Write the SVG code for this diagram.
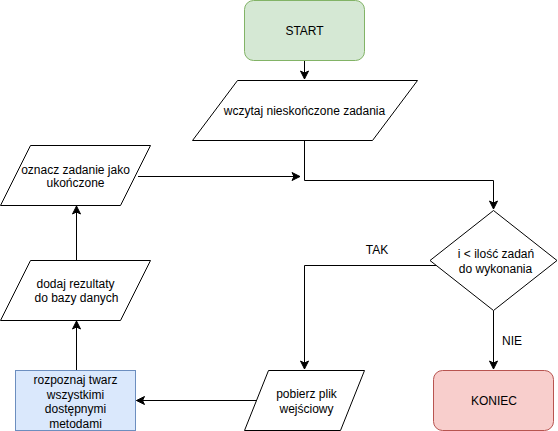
<svg xmlns="http://www.w3.org/2000/svg" width="558" height="431" viewBox="0 0 558 431">
<defs>
<style>
.t{font-family:"Liberation Sans",Arial,Helvetica,sans-serif;font-size:12px;fill:#000;text-anchor:middle}
.s{fill:#fff;stroke:#000;stroke-width:1}
.c{fill:none;stroke:#000;stroke-width:1}
</style>
<marker id="a" markerWidth="10" markerHeight="10" refX="9" refY="5" orient="auto" markerUnits="userSpaceOnUse">
<path d="M1,1 L9,5 L1,9 L3,5 Z" fill="#000" stroke="#000" stroke-width="1"/>
</marker>
</defs>
<rect width="558" height="431" fill="#fff"/>
<g id="connectors">
<path class="c" d="M304.5,60.5 V79" marker-end="url(#a)"/>
<path class="c" d="M304.5,140.5 V180.5 H493.5 V209" marker-end="url(#a)"/>
<path class="c" d="M138,176.5 H300" marker-end="url(#a)"/>
<path class="c" d="M76.5,260 V206" marker-end="url(#a)"/>
<path class="c" d="M76.5,370.5 V321" marker-end="url(#a)"/>
<path class="c" d="M257,400.5 H136.5" marker-end="url(#a)"/>
<path class="c" d="M436,265.5 H304.5 V369" marker-end="url(#a)"/>
<path class="c" d="M493.5,310.5 V369" marker-end="url(#a)"/>
<text class="t" x="377" y="254">TAK</text>
<text class="t" x="512" y="344.5">NIE</text>
</g>
<g id="start">
<rect x="244.5" y="0.5" width="120" height="60" rx="9" ry="9" fill="#d5e8d4" stroke="#82b366"/>
<text class="t" x="304.5" y="34.5">START</text>
</g>
<g id="wczytaj">
<path class="s" d="M237.5,80.5 H417.5 L372.5,140.5 H192.5 Z"/>
<text class="t" x="304.5" y="114.5">wczytaj nieskończone zadania</text>
</g>
<g id="oznacz">
<path class="s" d="M30.5,145.5 H150.5 L120.5,205.5 H0.5 Z"/>
<text class="t" x="75.5" y="173.5">oznacz zadanie jako</text>
<text class="t" x="75.5" y="187">ukończone</text>
</g>
<g id="dodaj">
<path class="s" d="M30.5,260.5 H150.5 L120.5,320.5 H0.5 Z"/>
<text class="t" x="75.5" y="287.5">dodaj rezultaty</text>
<text class="t" x="76.5" y="302">do bazy danych</text>
</g>
<g id="rozpoznaj">
<rect x="15.5" y="370.5" width="120" height="60" fill="#dae8fc" stroke="#6c8ebf"/>
<text class="t" x="75.5" y="383.5">rozpoznaj twarz</text>
<text class="t" x="75.5" y="398.5">wszystkimi</text>
<text class="t" x="75.5" y="413">dostępnymi</text>
<text class="t" x="75.5" y="428">metodami</text>
</g>
<g id="pobierz">
<path class="s" d="M268.5,370.5 H364.5 L340.5,430.5 H244.5 Z"/>
<text class="t" x="306.5" y="398">pobierz plik</text>
<text class="t" x="306.5" y="412.5">wejściowy</text>
</g>
<g id="decyzja">
<path class="s" d="M493.5,210.5 L557,260.5 L493.5,310.5 L430,260.5 Z"/>
<text class="t" x="496" y="258">i &lt; ilość zadań</text>
<text class="t" x="495.5" y="272.5">do wykonania</text>
</g>
<g id="koniec">
<rect x="433.5" y="370.5" width="120" height="60" rx="9" ry="9" fill="#f8cecc" stroke="#b85450"/>
<text class="t" x="494" y="405">KONIEC</text>
</g>
</svg>
